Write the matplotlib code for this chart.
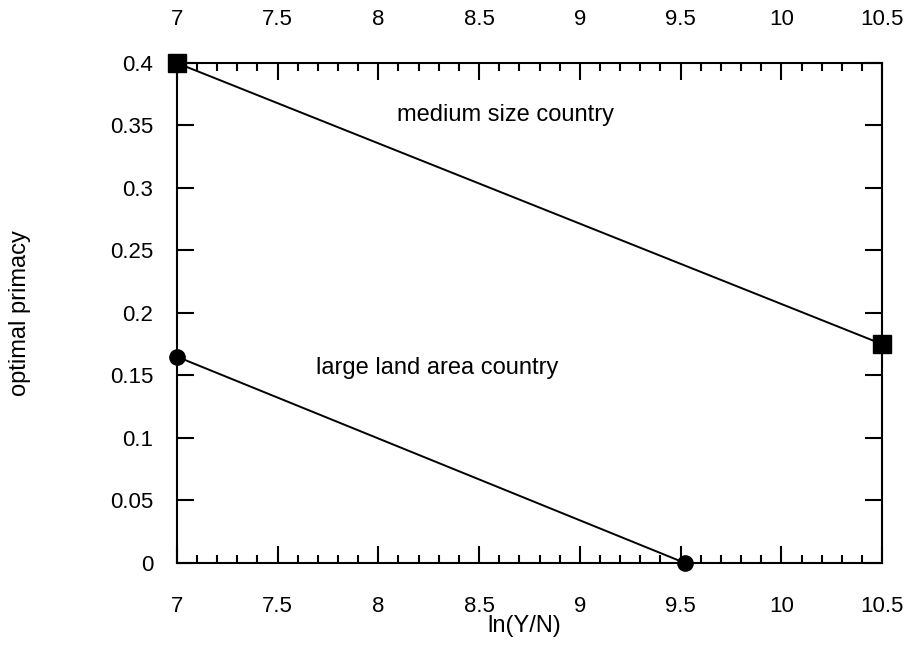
import matplotlib
matplotlib.use("Agg")
import matplotlib.pyplot as plt
from matplotlib.ticker import MultipleLocator

plt.rcParams['font.family'] = ['Liberation Sans', 'DejaVu Sans']

medium_x = [7.0, 10.5]
medium_y = [0.40, 0.175]
large_x = [7.0, 9.52]
large_y = [0.165, 0.0]
x_ticks = [7, 7.5, 8, 8.5, 9, 9.5, 10, 10.5]
x_ticklabels = ['7', '7.5', '8', '8.5', '9', '9.5', '10', '10.5']
y_ticks = [0, 0.05, 0.1, 0.15, 0.2, 0.25, 0.3, 0.35, 0.4]
y_ticklabels = ['0', '0.05', '0.1', '0.15', '0.2', '0.25', '0.3', '0.35', '0.4']

fig = plt.figure(figsize=(9.16, 6.56), dpi=100)
ax = fig.add_axes([0.193, 0.142, 0.770, 0.762])

ax.plot(medium_x, medium_y, color='black', lw=1.4, marker='s', ms=13, clip_on=False, zorder=3)
ax.plot(large_x, large_y, color='black', lw=1.4, marker='o', ms=11, clip_on=False, zorder=3)

ax.set_xlim(7, 10.5)
ax.set_ylim(0, 0.4)
ax.set_xticks(x_ticks)
ax.set_xticklabels(x_ticklabels)
ax.set_yticks(y_ticks)
ax.set_yticklabels(y_ticklabels)
ax.xaxis.set_minor_locator(MultipleLocator(0.1))

ax.tick_params(axis='both', which='both', direction='in', top=True, right=True,
               labeltop=True, labelsize=16, width=1.5, colors='black')
ax.tick_params(axis='x', which='major', length=12, pad=24)
ax.tick_params(axis='x', which='minor', length=6)
ax.tick_params(axis='y', which='major', length=12, pad=17)
for s in ax.spines.values():
    s.set_linewidth(1.5)

ax.text(8.63, 0.358, 'medium size country', ha='center', va='center', fontsize=17)
ax.text(8.29, 0.156, 'large land area country', ha='center', va='center', fontsize=17)

ax.set_xlabel('ln(Y/N)', fontsize=17)
ax.xaxis.set_label_coords(0.492, -0.104)
ax.set_ylabel('optimal primacy', fontsize=17)
ax.yaxis.set_label_coords(-0.206, 0.5)

fig.savefig('out.png', dpi=100)
